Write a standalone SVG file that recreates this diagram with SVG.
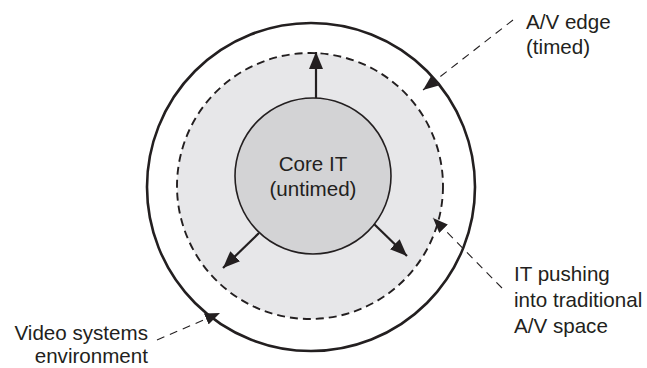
<svg xmlns="http://www.w3.org/2000/svg" width="647" height="368" viewBox="0 0 647 368">
<style>
text{font-family:"Liberation Sans",Arial,sans-serif;font-size:20.6px;fill:#231f20}
.arr{stroke:#231f20;stroke-width:2.2;fill:none}
.lead{stroke:#231f20;stroke-width:1.1;fill:none;stroke-dasharray:8 6}
</style>
<defs>
<marker id="ah" markerUnits="userSpaceOnUse" markerWidth="18" markerHeight="14" refX="17" refY="7" orient="auto"><path d="M0,0 L17,7 L0,14 Z" fill="#231f20"/></marker>
<marker id="ahs" markerUnits="userSpaceOnUse" markerWidth="16" markerHeight="12" refX="15" refY="6" orient="auto"><path d="M0,0 L15,6 L0,12 Z" fill="#231f20"/></marker>
</defs>
<rect width="647" height="368" fill="#fff"/>
<g id="environment"><circle cx="311" cy="187" r="164" fill="#fff" stroke="#231f20" stroke-width="2.6"/></g>
<g id="av-edge"><circle cx="310" cy="186" r="133" fill="#e7e7e9" stroke="#231f20" stroke-width="1.9" stroke-dasharray="8 5"/></g>
<g id="core-it"><circle cx="313" cy="176" r="78" fill="#d3d3d5" stroke="#231f20" stroke-width="1.6"/>
<text x="313" y="171" text-anchor="middle">Core IT</text>
<text x="313" y="196" text-anchor="middle">(untimed)</text></g>
<g id="connectors">
<line class="arr" x1="316" y1="98" x2="316" y2="52" marker-end="url(#ah)"/>
<line class="arr" x1="259" y1="233" x2="223" y2="268" marker-end="url(#ah)"/>
<line class="arr" x1="374" y1="224" x2="407" y2="256" marker-end="url(#ah)"/>
<line class="lead" x1="513" y1="20" x2="423" y2="90" marker-end="url(#ahs)"/>
<line class="lead" x1="502" y1="288" x2="433" y2="218" marker-end="url(#ahs)"/>
<line class="lead" x1="157" y1="340" x2="220" y2="313" marker-end="url(#ahs)"/>
</g>
<g id="label-av-edge"><text x="526" y="29">A/V edge</text><text x="526" y="54">(timed)</text></g>
<g id="label-it-pushing"><text x="514" y="281">IT pushing</text><text x="514" y="307">into traditional</text><text x="514" y="333">A/V space</text></g>
<g id="label-video"><text x="148" y="340" text-anchor="end">Video systems</text><text x="148" y="363" text-anchor="end">environment</text></g>
</svg>
